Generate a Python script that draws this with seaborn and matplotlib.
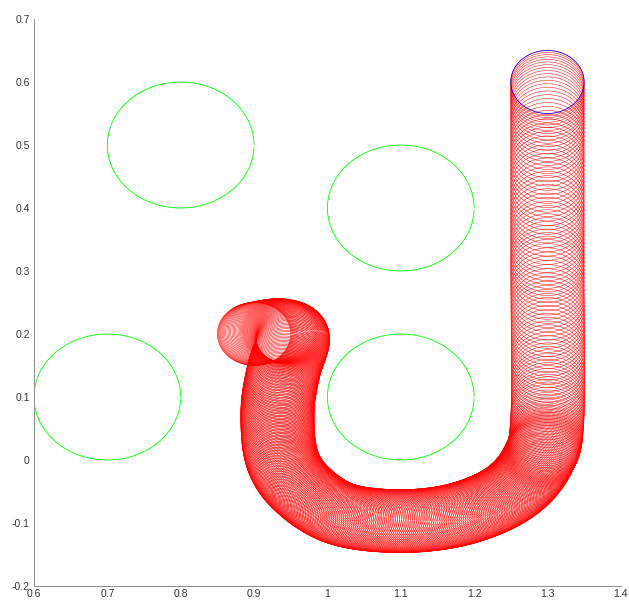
import numpy as np
import pandas as pd
import matplotlib
matplotlib.use("Agg")
import matplotlib.pyplot as plt
import seaborn as sns

# ---- data ----
obstacle_x = [0.8, 1.1, 0.7, 1.1]
obstacle_y = [0.5, 0.4, 0.1, 0.1]
obstacle_r = 0.1

robot_r = 0.05
start_x, start_y = 1.3, 0.6

# waypoints of the robot's centre path (start -> goal)
path_x = [1.30, 1.30, 1.30, 1.287, 1.248, 1.18, 1.10, 1.02, 0.966, 0.938, 0.932, 0.940, 0.953, 0.935, 0.900]
path_y = [0.60, 0.30, 0.07, 0.000, -0.052, -0.086, -0.097, -0.086, -0.047, 0.003, 0.077, 0.140, 0.193, 0.206, 0.200]
# number of drawn robot positions on each path segment
path_n = [50, 40, 32, 32, 32, 32, 32, 30, 26, 30, 28, 26, 24, 24]

xticks = [0.6, 0.7, 0.8, 0.9, 1.0, 1.1, 1.2, 1.3, 1.4]
xticklabels = ["0.6", "0.7", "0.8", "0.9", "1", "1.1", "1.2", "1.3", "1.4"]
yticks = [-0.2, -0.1, 0.0, 0.1, 0.2, 0.3, 0.4, 0.5, 0.6, 0.7]
yticklabels = ["-0.2", "-0.1", "0", "0.1", "0.2", "0.3", "0.4", "0.5", "0.6", "0.7"]


def catmull_rom(px, py, counts):
    P = np.column_stack([px, py])
    n = len(P)
    out = []
    for i in range(n - 1):
        p0 = P[max(i - 1, 0)]
        p1 = P[i]
        p2 = P[i + 1]
        p3 = P[min(i + 2, n - 1)]
        t = np.linspace(0, 1, counts[i], endpoint=False)[:, None]
        pts = 0.5 * ((2 * p1) + (-p0 + p2) * t + (2 * p0 - 5 * p1 + 4 * p2 - p3) * t ** 2
                     + (-p0 + 3 * p1 - 3 * p2 + p3) * t ** 3)
        out.append(pts)
    out.append(P[-1:])
    return np.vstack(out)


theta = np.arange(0, 2 * np.pi, 0.05)


def circles_df(cx, cy, r):
    rows = []
    for k, (x0, y0) in enumerate(zip(cx, cy)):
        rows.append(pd.DataFrame({"x": x0 + r * np.cos(theta),
                                  "y": y0 + r * np.sin(theta),
                                  "id": k}))
    return pd.concat(rows, ignore_index=True)


centers = catmull_rom(path_x, path_y, path_n)
df_path = circles_df(centers[:, 0], centers[:, 1], robot_r)
df_obs = circles_df(obstacle_x, obstacle_y, obstacle_r)
df_start = circles_df([start_x], [start_y], robot_r)

sns.set_style("white")
plt.rcParams["font.family"] = ["Liberation Sans", "DejaVu Sans"]

fig = plt.figure(figsize=(6.29, 6.03), dpi=100)
ax = fig.add_axes([0.054, 0.0282, 0.933, 0.9403])

sns.lineplot(data=df_obs, x="x", y="y", units="id", estimator=None, sort=False,
             color=(0.0, 1.0, 0.0), lw=0.6, legend=False, ax=ax)
sns.lineplot(data=df_path, x="x", y="y", units="id", estimator=None, sort=False,
             color=(1.0, 0.0, 0.0), lw=0.35, legend=False, ax=ax)
sns.lineplot(data=df_start, x="x", y="y", units="id", estimator=None, sort=False,
             color=(0.0, 0.0, 1.0), lw=0.5, legend=False, ax=ax)

ax.set_xlim(0.6, 1.4)
ax.set_ylim(-0.2, 0.7)
ax.set_xticks(xticks)
ax.set_xticklabels(xticklabels)
ax.set_yticks(yticks)
ax.set_yticklabels(yticklabels)
ax.set_xlabel("")
ax.set_ylabel("")
for s in ["top", "right"]:
    ax.spines[s].set_visible(False)
for s in ["left", "bottom"]:
    ax.spines[s].set_color("#8c8c8c")
    ax.spines[s].set_linewidth(0.7)
ax.tick_params(direction="in", length=4, width=0.7, color="#8c8c8c",
               labelsize=7.5, labelcolor="#333333", pad=3)
ax.tick_params(axis="x", pad=2)

fig.savefig("out.png", dpi=100)
